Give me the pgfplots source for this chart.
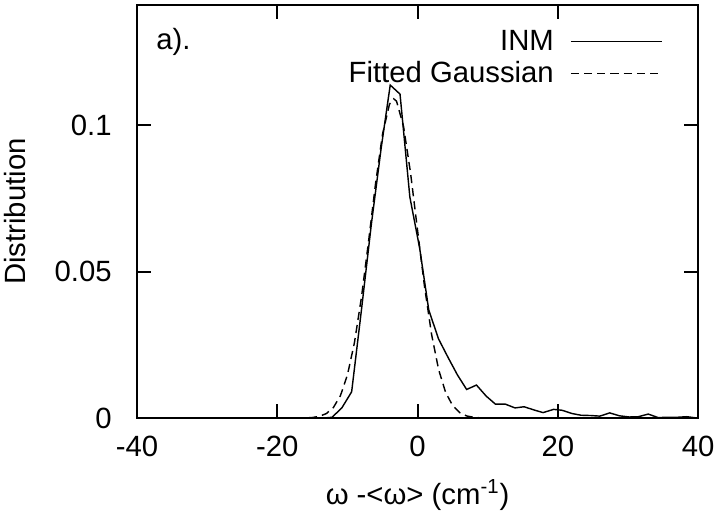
\documentclass[border=0pt]{standalone}
\usepackage{pgfplots}
\pgfplotsset{compat=1.18}
\usepackage{fontspec}
\setmainfont{Liberation Sans}
\begin{document}
\begin{tikzpicture}[font=\fontsize{14.4pt}{17pt}\selectfont]
\begin{axis}[
  scale only axis,
  width=275.8pt, height=203.1pt,
  xmin=-40, xmax=40, ymin=0, ymax=0.141,
  xtick={-40,-20,0,20,40},
  xticklabels={-40,-20,0,20,40},
  ytick={0,0.05,0.1},
  yticklabels={0,0.05,0.1},
  tick align=inside,
  major tick length=6.9pt,
  axis line style={line width=1pt},
  every tick/.style={black, line width=1pt},
  tick label style={font=\fontsize{14.4pt}{17pt}\selectfont},
  xticklabel style={yshift=-5.5pt},
  yticklabel style={xshift=-9pt},
  label style={font=\fontsize{14.4pt}{17pt}\selectfont},
  xlabel={ω -<ω> (cm\textsuperscript{-1})},
  ylabel={Distribution},
  xlabel style={at={(axis description cs:0.5,-0.186)}, anchor=center},
  ylabel style={at={(axis description cs:-0.2175,0.5)}, anchor=center},
  legend plot pos=right,
  legend cell align=right,
  legend image code/.code={\path (0pt,0pt); \draw[#1] (6pt,0pt) -- (51pt,0pt);},
  legend style={draw=none, fill=none, font=\fontsize{14.4pt}{17pt}\selectfont,
    at={(axis description cs:1,1)}, anchor=north east, xshift=-14pt, yshift=-8pt,
    row sep=0pt},
]
\addplot[black, line width=0.7pt] coordinates {
(-40,0) (-13.6,0) (-12.2,0.0003) (-10.8,0.0035) (-9.4,0.009) (-8.0,0.037)
(-6.6,0.066) (-5.2,0.092) (-3.9,0.1137) (-2.5,0.1106) (-1.1,0.0755) (0.3,0.058)
(1.6,0.0369) (3.0,0.027) (4.4,0.0205) (5.7,0.0147) (7.0,0.0098) (8.4,0.0113)
(9.8,0.0075) (11.1,0.0048) (12.5,0.0048) (13.9,0.0035) (15.2,0.0039) (16.6,0.0028)
(17.9,0.0019) (19.4,0.003) (20.6,0.0027) (22.0,0.0016) (23.3,0.001) (24.7,0.0009)
(26.0,0.0007) (27.4,0.0018) (28.8,0.0008) (30.2,0.0004) (31.5,0.0005) (32.9,0.0014)
(34.3,0.0002) (35.7,0.0003) (37.0,0.0003) (38.4,0.0005) (40,0)
};
\addlegendentry{INM}
\addplot[black, line width=0.7pt, dash pattern=on 4pt off 2.5pt] coordinates {
(-40,0) (-17,0) (-16,0.00007) (-15,0.00023) (-14,0.00063) (-13,0.00158) (-12,0.00365)
(-11,0.00768) (-10,0.01475) (-9,0.0258) (-8,0.0413) (-7,0.0601) (-6,0.0799)
(-5,0.0969) (-4,0.1072) (-3.4,0.109) (-3,0.1082) (-2,0.0996) (-1,0.0837) (0,0.0641)
(1,0.0448) (2,0.0286) (3,0.0166) (4,0.0088) (5,0.0043) (6,0.0019) (7,0.00076)
(8,0.00028) (9,0.0001) (10,0) (40,0)
};
\addlegendentry{Fitted Gaussian}
\node[anchor=north west, inner sep=0pt] at (rel axis cs:0,1) [xshift=9.3pt, yshift=-11pt] {a).};
\end{axis}
\pgfresetboundingbox
\path ([xshift=-67.4pt,yshift=-47.2pt]current axis.south west) rectangle ([xshift=10.8pt,yshift=2.5pt]current axis.north east);
\end{tikzpicture}
\end{document}
